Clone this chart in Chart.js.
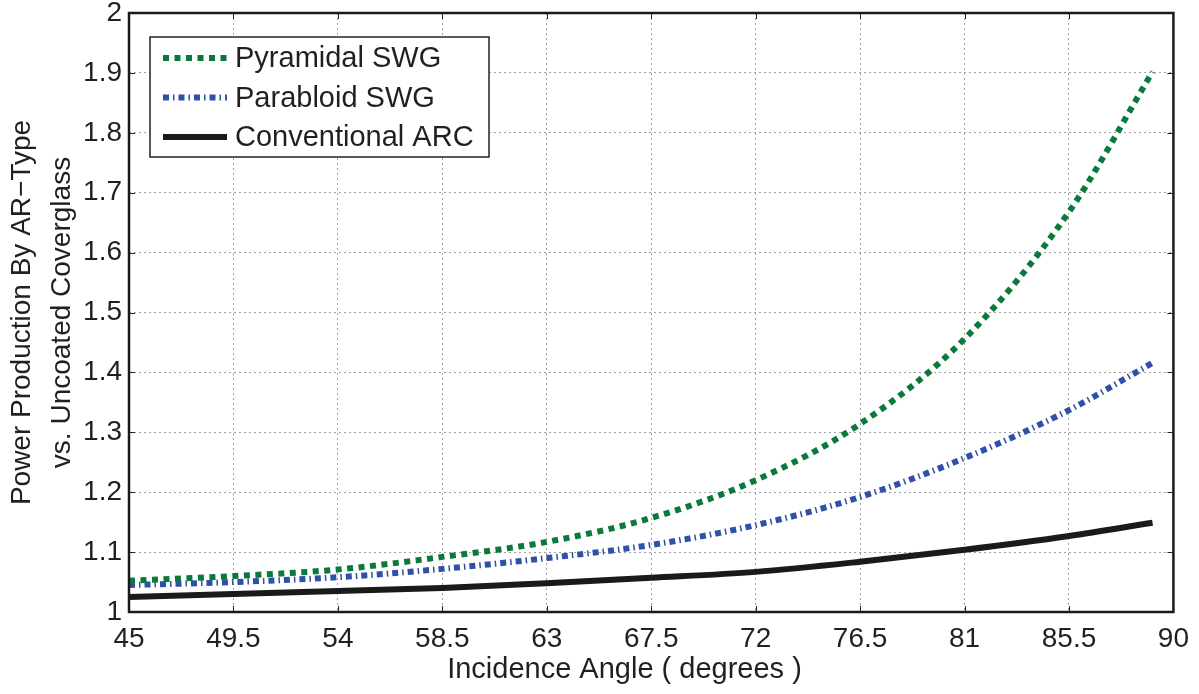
<!DOCTYPE html>
<html>
<head>
<meta charset="utf-8">
<script src="https://cdn.jsdelivr.net/npm/chart.js@4.4.1/dist/chart.umd.min.js"></script>
<style>
html,body{margin:0;padding:0;background:#fff;}
#wrap{width:1199px;height:694px;position:relative;}
</style>
</head>
<body>
<div id="wrap"><canvas id="c" width="1199" height="694"></canvas></div>
<script>
// Data
const angles = [45, 49.5, 54, 58.5, 63, 67.5, 72, 76.5, 81, 85.5, 89.1];
const pyramidal = [1.052, 1.060, 1.071, 1.092, 1.117, 1.157, 1.220, 1.314, 1.456, 1.668, 1.902];
const parabloid = [1.045, 1.050, 1.058, 1.072, 1.090, 1.112, 1.145, 1.192, 1.257, 1.337, 1.416];
const conventional = [1.025, 1.030, 1.035, 1.040, 1.048, 1.057, 1.067, 1.084, 1.104, 1.127, 1.149];
const xTickLabels = ['45','49.5','54','58.5','63','67.5','72','76.5','81','85.5','90'];
const yTickLabels = ['1','1.1','1.2','1.3','1.4','1.5','1.6','1.7','1.8','1.9','2'];
const seriesNames = ['Pyramidal SWG', 'Parabloid SWG', 'Conventional ARC'];
const xTitle = 'Incidence Angle ( degrees )';
const yTitle = ['Power Production By AR\u2212Type', 'vs. Uncoated Coverglass'];

const FONT = "'Liberation Sans', Arial, Helvetica, sans-serif";
const TEXT = '#231f20';
const toPts = ys => angles.map((a, i) => ({x: a, y: ys[i]}));

const boxTicks = {
  id: 'boxTicks',
  afterDatasetsDraw(chart) {
    const {ctx, chartArea: a, scales: {x, y}} = chart;
    ctx.save();
    ctx.strokeStyle = '#222';
    ctx.lineWidth = 1;
    const L = 6;
    x.ticks.forEach(t => {
      const px = Math.round(x.getPixelForValue(t.value)) + 0.5;
      ctx.beginPath();
      ctx.moveTo(px, a.bottom); ctx.lineTo(px, a.bottom - L);
      ctx.moveTo(px, a.top); ctx.lineTo(px, a.top + L);
      ctx.stroke();
    });
    y.ticks.forEach(t => {
      const py = Math.round(y.getPixelForValue(t.value)) + 0.5;
      ctx.beginPath();
      ctx.moveTo(a.left, py); ctx.lineTo(a.left + L, py);
      ctx.moveTo(a.right, py); ctx.lineTo(a.right - L, py);
      ctx.stroke();
    });
    ctx.strokeStyle = '#1a1a1a';
    ctx.lineWidth = 2.5;
    ctx.strokeRect(a.left, a.top, a.right - a.left, a.bottom - a.top);
    ctx.restore();
  },
  afterDraw(chart) {
    const {ctx} = chart;
    // x-axis title
    ctx.save();
    ctx.fillStyle = TEXT;
    ctx.font = '29px ' + FONT;
    ctx.textAlign = 'center';
    ctx.textBaseline = 'middle';
    ctx.fillText(xTitle, 624.5, 670);
    ctx.restore();
    // Legend box in upper-left of plot
    const bx = 150, by = 37, bw = 339, bh = 120;
    ctx.save();
    ctx.fillStyle = '#fff';
    ctx.fillRect(bx, by, bw, bh);
    ctx.strokeStyle = '#222';
    ctx.lineWidth = 1.5;
    ctx.strokeRect(bx, by, bw, bh);
    ctx.font = '29px ' + FONT;
    ctx.textBaseline = 'middle';
    chart.data.datasets.forEach((ds, i) => {
      const cy = by + 21 + i * 39.5;
      ctx.save();
      ctx.strokeStyle = ds.borderColor;
      ctx.lineWidth = ds.borderWidth;
      ctx.setLineDash(ds.borderDash || []);
      ctx.lineCap = 'butt';
      ctx.beginPath();
      ctx.moveTo(163, cy); ctx.lineTo(227, cy);
      ctx.stroke();
      ctx.restore();
      ctx.fillStyle = TEXT;
      ctx.fillText(ds.label, 235, cy + 1);
    });
    ctx.restore();
  }
};

new Chart(document.getElementById('c'), {
  type: 'line',
  data: {
    datasets: [
      {label: seriesNames[0], data: toPts(pyramidal), borderColor: '#0a7a3c', borderWidth: 6, borderDash: [6, 5.5], pointRadius: 0, cubicInterpolationMode: 'monotone', fill: false},
      {label: seriesNames[1], data: toPts(parabloid), borderColor: '#3050a8', borderWidth: 6, borderDash: [6, 4, 1.5, 4], pointRadius: 0, cubicInterpolationMode: 'monotone', fill: false},
      {label: seriesNames[2], data: toPts(conventional), borderColor: '#1a1a1a', borderWidth: 6, pointRadius: 0, cubicInterpolationMode: 'monotone', fill: false}
    ]
  },
  options: {
    responsive: false,
    animation: false,
    events: [],
    layout: {padding: {left: 0, right: 21, top: 13, bottom: 0}},
    plugins: {legend: {display: false}, tooltip: {enabled: false}},
    scales: {
      x: {
        type: 'linear', min: 45, max: 90,
        afterBuildTicks: s => { s.ticks = xTickLabels.map(v => ({value: parseFloat(v)})); },
        ticks: {
          autoSkip: false, maxRotation: 0, padding: 10,
          color: TEXT, font: {family: FONT, size: 28},
          callback: (v, i) => xTickLabels[i]
        },
        grid: {color: '#a0a0a0', lineWidth: 1, drawTicks: false},
        border: {display: false, dash: [2, 3]},
        title: {display: false},
        afterFit: s => { s.height = 82; }
      },
      y: {
        type: 'linear', min: 1, max: 2,
        afterBuildTicks: s => { s.ticks = yTickLabels.map(v => ({value: parseFloat(v)})); },
        ticks: {
          autoSkip: false, padding: 7,
          color: TEXT, font: {family: FONT, size: 28, lineHeight: 0.4},
          callback: (v, i) => yTickLabels[i]
        },
        grid: {color: '#a0a0a0', lineWidth: 1, drawTicks: false},
        border: {display: false, dash: [2, 3]},
        title: {display: true, text: yTitle, color: TEXT, font: {family: FONT, size: 28, lineHeight: 1.4}, padding: {top: 3, bottom: 0}},
        afterFit: s => { s.width = 129; }
      }
    }
  },
  plugins: [boxTicks]
});
</script>
</body>
</html>
